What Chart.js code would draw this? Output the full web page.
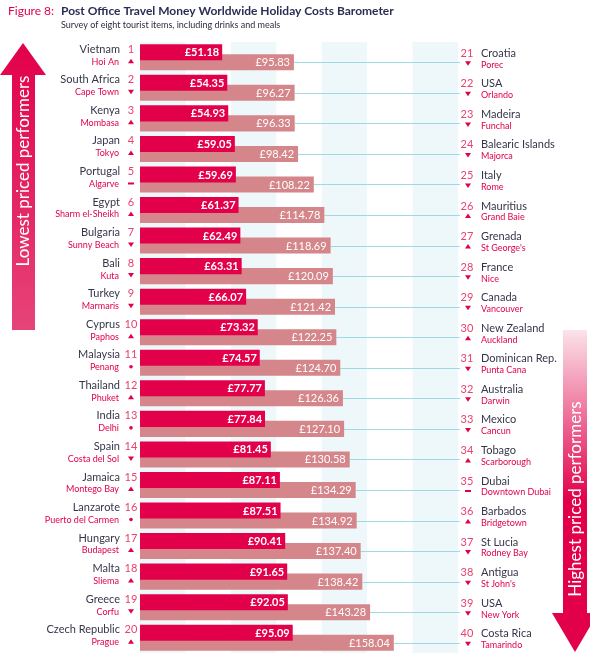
<!DOCTYPE html>
<html>
<head>
<meta charset="utf-8">
<script src="https://cdn.jsdelivr.net/npm/chart.js@4/dist/chart.umd.min.js"></script>
<style>
  html, body { margin: 0; padding: 0; background: #fff; }
  #wrap { width: 590px; height: 653px; }
</style>
</head>
<body>
<div id="wrap"><canvas id="chart" width="590" height="653"></canvas></div>
<script>
// ranks 1-20 (cheapest)
const lowCountries = ["Vietnam", "South Africa", "Kenya", "Japan", "Portugal", "Egypt", "Bulgaria", "Bali", "Turkey", "Cyprus",
  "Malaysia", "Thailand", "India", "Spain", "Jamaica", "Lanzarote", "Hungary", "Malta", "Greece", "Czech Republic"];
const lowCities = ["Hoi An", "Cape Town", "Mombasa", "Tokyo", "Algarve", "Sharm el-Sheikh", "Sunny Beach", "Kuta", "Marmaris", "Paphos",
  "Penang", "Phuket", "Delhi", "Costa del Sol", "Montego Bay", "Puerto del Carmen", "Budapest", "Sliema", "Corfu", "Prague"];
const lowPrices = [51.18, 54.35, 54.93, 59.05, 59.69, 61.37, 62.49, 63.31, 66.07, 73.32,
  74.57, 77.77, 77.84, 81.45, 87.11, 87.51, 90.41, 91.65, 92.05, 95.09];
const lowMoves = ["up", "down", "up", "up", "same", "up", "down", "down", "down", "up",
  "new", "up", "new", "down", "up", "new", "up", "up", "down", "up"];

// ranks 21-40 (most expensive)
const highCountries = ["Croatia", "USA", "Madeira", "Balearic Islands", "Italy", "Mauritius", "Grenada", "France", "Canada", "New Zealand",
  "Dominican Rep.", "Australia", "Mexico", "Tobago", "Dubai", "Barbados", "St Lucia", "Antigua", "USA", "Costa Rica"];
const highCities = ["Porec", "Orlando", "Funchal", "Majorca", "Rome", "Grand Baie", "St George's", "Nice", "Vancouver", "Auckland",
  "Punta Cana", "Darwin", "Cancun", "Scarborough", "Downtown Dubai", "Bridgetown", "Rodney Bay", "St John's", "New York", "Tamarindo"];
const highPrices = [95.83, 96.27, 96.33, 98.42, 108.22, 114.78, 118.69, 120.09, 121.42, 122.25,
  124.70, 126.36, 127.10, 130.58, 134.29, 134.92, 137.40, 138.42, 143.28, 158.04];
const highMoves = ["down", "down", "down", "down", "down", "up", "up", "down", "down", "up",
  "down", "down", "down", "up", "same", "up", "down", "down", "down", "down"];

const xMax = 198;
const bandCount = 7;

const RED = "#e2004b";
const PINK = "#d4868a";
const DARK = "#35364a";
const NUM = "#e8426f";
const FONT = "Lato, 'Open Sans', sans-serif";

function drawMove(ctx, kind, x, y) {
  ctx.fillStyle = RED;
  ctx.beginPath();
  if (kind === "up") {
    ctx.moveTo(x, y - 2.5); ctx.lineTo(x + 3, y + 2); ctx.lineTo(x - 3, y + 2);
  } else if (kind === "down") {
    ctx.moveTo(x - 3, y - 2); ctx.lineTo(x + 3, y - 2); ctx.lineTo(x, y + 2.5);
  } else if (kind === "same") {
    ctx.rect(x - 3, y - 1, 6, 2);
  } else {
    ctx.arc(x, y, 1.8, 0, Math.PI * 2);
  }
  ctx.closePath();
  ctx.fill();
}

const decor = {
  id: "decor",
  beforeDraw(chart) {
    const ctx = chart.ctx;
    const xs = chart.scales.x;
    const area = chart.chartArea;
    ctx.save();
    ctx.fillStyle = "#fff";
    ctx.fillRect(0, 0, chart.width, chart.height);

    // light column bands
    ctx.fillStyle = "#eef8fa";
    for (let i = 0; i < bandCount; i += 2) {
      const a = xs.getPixelForValue(i * xMax / bandCount);
      const b = xs.getPixelForValue((i + 1) * xMax / bandCount);
      ctx.fillRect(a, area.top, b - a, area.bottom - area.top);
    }

    // title
    ctx.textBaseline = "alphabetic";
    ctx.textAlign = "left";
    ctx.font = "12px " + FONT;
    ctx.fillStyle = RED;
    ctx.fillText("Figure 8:", 8, 15);
    ctx.font = "bold 12px " + FONT;
    ctx.fillStyle = "#2b2d52";
    ctx.fillText("Post Office Travel Money Worldwide Holiday Costs Barometer", 61, 15);
    ctx.font = "9px " + FONT;
    ctx.fillStyle = "#2b2d40";
    ctx.fillText("Survey of eight tourist items, including drinks and meals", 61, 28);

    // left arrow (up)
    let g = ctx.createLinearGradient(0, 43, 0, 330);
    g.addColorStop(0, "#e2004b");
    g.addColorStop(1, "#e64479");
    ctx.fillStyle = g;
    ctx.beginPath();
    ctx.moveTo(23, 43); ctx.lineTo(46, 75); ctx.lineTo(35, 75); ctx.lineTo(35, 330);
    ctx.lineTo(12, 330); ctx.lineTo(12, 75); ctx.lineTo(0, 75);
    ctx.closePath();
    ctx.fill();

    // right arrow (down)
    g = ctx.createLinearGradient(0, 330, 0, 500);
    g.addColorStop(0, "#fbe3ea");
    g.addColorStop(1, "#e2004b");
    ctx.fillStyle = g;
    ctx.beginPath();
    ctx.moveTo(563, 330); ctx.lineTo(587, 330); ctx.lineTo(587, 613); ctx.lineTo(598, 613);
    ctx.lineTo(575, 652); ctx.lineTo(552, 613); ctx.lineTo(563, 613);
    ctx.closePath();
    ctx.fill();

    ctx.fillStyle = "#fff";
    ctx.font = "17px " + FONT;
    ctx.textAlign = "center";
    ctx.textBaseline = "middle";
    ctx.save();
    ctx.translate(24, 171);
    ctx.rotate(-Math.PI / 2);
    ctx.fillText("Lowest priced performers", 0, 0);
    ctx.restore();
    ctx.save();
    ctx.translate(576, 499);
    ctx.rotate(-Math.PI / 2);
    ctx.fillText("Highest priced performers", 0, 0);
    ctx.restore();
    ctx.restore();
  },
  beforeDatasetsDraw(chart) {
    const ctx = chart.ctx;
    const area = chart.chartArea;
    const pinkBars = chart.getDatasetMeta(1).data;
    ctx.save();
    ctx.strokeStyle = "#9fd9e4";
    ctx.lineWidth = 1;
    pinkBars.forEach(bar => {
      const y = Math.round(bar.y) + 0.5;
      ctx.beginPath();
      ctx.moveTo(bar.x, y);
      ctx.lineTo(area.right + 2, y);
      ctx.stroke();
    });
    ctx.restore();
  },
  afterDatasetsDraw(chart) {
    const ctx = chart.ctx;
    const area = chart.chartArea;
    const redBars = chart.getDatasetMeta(0).data;
    const pinkBars = chart.getDatasetMeta(1).data;
    ctx.save();
    ctx.textBaseline = "middle";

    // value labels
    ctx.fillStyle = "#fff";
    ctx.textAlign = "right";
    ctx.font = "bold 11px " + FONT;
    redBars.forEach((bar, i) => ctx.fillText("£" + lowPrices[i].toFixed(2), bar.x - 3, bar.y + 0.5));
    ctx.font = "11px " + FONT;
    pinkBars.forEach((bar, i) => ctx.fillText("£" + highPrices[i].toFixed(2), bar.x - 4, bar.y + 0.5));

    // left labels
    redBars.forEach((bar, i) => {
      const y = bar.y;
      ctx.textAlign = "right";
      ctx.fillStyle = DARK;
      ctx.font = "11px " + FONT;
      ctx.fillText(lowCountries[i], area.left - 20, y - 3);
      ctx.fillStyle = RED;
      ctx.font = "9px " + FONT;
      ctx.fillText(lowCities[i], area.left - 21, y + 9.5);
      ctx.textAlign = "center";
      ctx.fillStyle = NUM;
      ctx.font = "11px " + FONT;
      ctx.fillText(String(i + 1), area.left - 9, y - 3);
      drawMove(ctx, lowMoves[i], area.left - 9, y + 9);
    });

    // right labels
    pinkBars.forEach((bar, i) => {
      const y = bar.y;
      ctx.textAlign = "center";
      ctx.fillStyle = NUM;
      ctx.font = "11px " + FONT;
      ctx.fillText(String(i + 21), area.right + 9, y - 9);
      drawMove(ctx, highMoves[i], area.right + 10, y + 1);
      ctx.textAlign = "left";
      ctx.fillStyle = DARK;
      ctx.font = "11px " + FONT;
      ctx.fillText(highCountries[i], area.right + 23, y - 9);
      ctx.fillStyle = RED;
      ctx.font = "9px " + FONT;
      ctx.fillText(highCities[i], area.right + 23, y + 2.5);
    });
    ctx.restore();
  }
};

new Chart(document.getElementById("chart").getContext("2d"), {
  type: "bar",
  data: {
    labels: lowCountries,
    datasets: [
      { label: "Ranks 1-20", data: lowPrices, backgroundColor: RED },
      { label: "Ranks 21-40", data: highPrices, backgroundColor: PINK }
    ]
  },
  options: {
    indexAxis: "y",
    responsive: false,
    animation: false,
    categoryPercentage: 0.655,
    barPercentage: 1.6,
    layout: { padding: { left: 140, right: 132, top: 42, bottom: 0 } },
    scales: {
      x: { display: false, min: 0, max: xMax },
      y: { display: false }
    },
    plugins: { legend: { display: false }, tooltip: { enabled: false } }
  },
  plugins: [decor]
});
</script>
</body>
</html>
